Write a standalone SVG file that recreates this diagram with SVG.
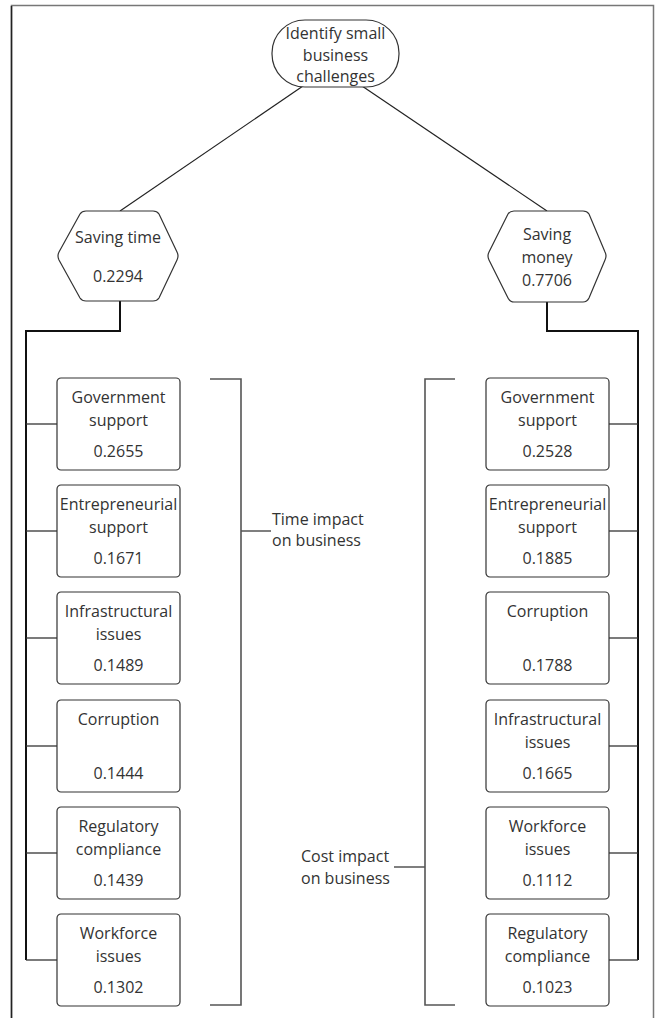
<svg xmlns="http://www.w3.org/2000/svg" width="660" height="1018" viewBox="0 0 660 1018">
  <style>
    text { font-family: "Open Sans", "Noto Sans", "Liberation Sans", sans-serif; font-size: 16px; fill: #333; text-anchor: middle; }
    .lbl { text-anchor: start; }
    .shape { fill: #fff; stroke: #333; stroke-width: 1.2; }
    .link { fill: none; stroke: #222; stroke-width: 1.2; }
    .trunk { fill: none; stroke: #111; stroke-width: 2; }
    .branch { fill: none; stroke: #333; stroke-width: 1.3; }
    .bracket { fill: none; stroke: #555; stroke-width: 1.6; }
    .frame { fill: none; stroke: #777; stroke-width: 1.5; }
  </style>
  <defs>
    <rect id="box" width="123" height="92" rx="4" ry="4" class="shape"/>
  </defs>

  <rect width="660" height="1018" fill="#fff"/>

  <!-- outer frame -->
  <path class="frame" d="M11.5,1018 V5.5 H653.5 V1018"/>
  <path d="M11.5,1018 V6" stroke="#222" stroke-width="1.5" fill="none"/>

  <!-- connectors -->
  <g id="connectors">
    <line class="link" x1="303" y1="86" x2="120" y2="211"/>
    <line class="link" x1="362" y1="86" x2="547" y2="211"/>
    <path class="trunk" d="M120,301 V331 H26 V960"/>
    <path class="trunk" d="M547,302 V331 H638 V960"/>
    <g class="branch">
      <line x1="26" y1="424" x2="57" y2="424"/>
      <line x1="26" y1="531" x2="57" y2="531"/>
      <line x1="26" y1="638" x2="57" y2="638"/>
      <line x1="26" y1="746" x2="57" y2="746"/>
      <line x1="26" y1="853" x2="57" y2="853"/>
      <line x1="26" y1="960" x2="57" y2="960"/>
      <line x1="609" y1="424" x2="638" y2="424"/>
      <line x1="609" y1="531" x2="638" y2="531"/>
      <line x1="609" y1="638" x2="638" y2="638"/>
      <line x1="609" y1="746" x2="638" y2="746"/>
      <line x1="609" y1="853" x2="638" y2="853"/>
      <line x1="609" y1="960" x2="638" y2="960"/>
    </g>
    <!-- brackets -->
    <path class="bracket" d="M210,379 H241 V1005 H210 M241,531 H271"/>
    <path class="bracket" d="M455,379 H425 V1005 H455 M425,867 H394"/>
  </g>

  <!-- root -->
  <g id="root">
    <rect x="272" y="20" width="127" height="67" rx="33" ry="33" class="shape"/>
    <text x="335.5" y="39">Identify small</text>
    <text x="335.5" y="61">business</text>
    <text x="335.5" y="82">challenges</text>
  </g>

  <!-- criteria -->
  <g id="saving-time">
    <path class="shape" d="M59,252 L80,214 Q82,211 86,211 H153 Q157,211 159,214 L177,252 Q179,256 177,260 L159,298 Q157,301 153,301 H86 Q82,301 80,298 L59,260 Q57,256 59,252 Z"/>
    <text x="118" y="243">Saving time</text>
    <text x="118" y="282">0.2294</text>
  </g>
  <g id="saving-money">
    <path class="shape" d="M489,252 L508,214 Q510,211 514,211 H583 Q587,211 589,214 L605,252 Q607,256 605,260 L589,298 Q587,302 583,302 H514 Q510,302 508,298 L489,260 Q487,256 489,252 Z"/>
    <text x="547" y="240">Saving</text>
    <text x="547" y="263">money</text>
    <text x="547" y="286">0.7706</text>
  </g>

  <!-- time-weighted factors -->
  <g id="t-gov">
    <use href="#box" x="57" y="378"/>
    <text x="118.5" y="403">Government</text>
    <text x="118.5" y="426">support</text>
    <text x="118.5" y="457">0.2655</text>
  </g>
  <g id="t-ent">
    <use href="#box" x="57" y="485"/>
    <text x="118.5" y="510">Entrepreneurial</text>
    <text x="118.5" y="533">support</text>
    <text x="118.5" y="564">0.1671</text>
  </g>
  <g id="t-inf">
    <use href="#box" x="57" y="592"/>
    <text x="118.5" y="617">Infrastructural</text>
    <text x="118.5" y="640">issues</text>
    <text x="118.5" y="671">0.1489</text>
  </g>
  <g id="t-cor">
    <use href="#box" x="57" y="700"/>
    <text x="118.5" y="725">Corruption</text>
    <text x="118.5" y="779">0.1444</text>
  </g>
  <g id="t-reg">
    <use href="#box" x="57" y="807"/>
    <text x="118.5" y="832">Regulatory</text>
    <text x="118.5" y="855">compliance</text>
    <text x="118.5" y="886">0.1439</text>
  </g>
  <g id="t-wrk">
    <use href="#box" x="57" y="914"/>
    <text x="118.5" y="939">Workforce</text>
    <text x="118.5" y="962">issues</text>
    <text x="118.5" y="993">0.1302</text>
  </g>

  <!-- cost-weighted factors -->
  <g id="c-gov">
    <use href="#box" x="486" y="378"/>
    <text x="547.5" y="403">Government</text>
    <text x="547.5" y="426">support</text>
    <text x="547.5" y="457">0.2528</text>
  </g>
  <g id="c-ent">
    <use href="#box" x="486" y="485"/>
    <text x="547.5" y="510">Entrepreneurial</text>
    <text x="547.5" y="533">support</text>
    <text x="547.5" y="564">0.1885</text>
  </g>
  <g id="c-cor">
    <use href="#box" x="486" y="592"/>
    <text x="547.5" y="617">Corruption</text>
    <text x="547.5" y="671">0.1788</text>
  </g>
  <g id="c-inf">
    <use href="#box" x="486" y="700"/>
    <text x="547.5" y="725">Infrastructural</text>
    <text x="547.5" y="748">issues</text>
    <text x="547.5" y="779">0.1665</text>
  </g>
  <g id="c-wrk">
    <use href="#box" x="486" y="807"/>
    <text x="547.5" y="832">Workforce</text>
    <text x="547.5" y="855">issues</text>
    <text x="547.5" y="886">0.1112</text>
  </g>
  <g id="c-reg">
    <use href="#box" x="486" y="914"/>
    <text x="547.5" y="939">Regulatory</text>
    <text x="547.5" y="962">compliance</text>
    <text x="547.5" y="993">0.1023</text>
  </g>

  <!-- bracket labels -->
  <g id="time-impact">
    <text class="lbl" x="272" y="525">Time impact</text>
    <text class="lbl" x="272" y="546">on business</text>
  </g>
  <g id="cost-impact">
    <text class="lbl" x="301" y="862">Cost impact</text>
    <text class="lbl" x="301" y="884">on business</text>
  </g>
</svg>
